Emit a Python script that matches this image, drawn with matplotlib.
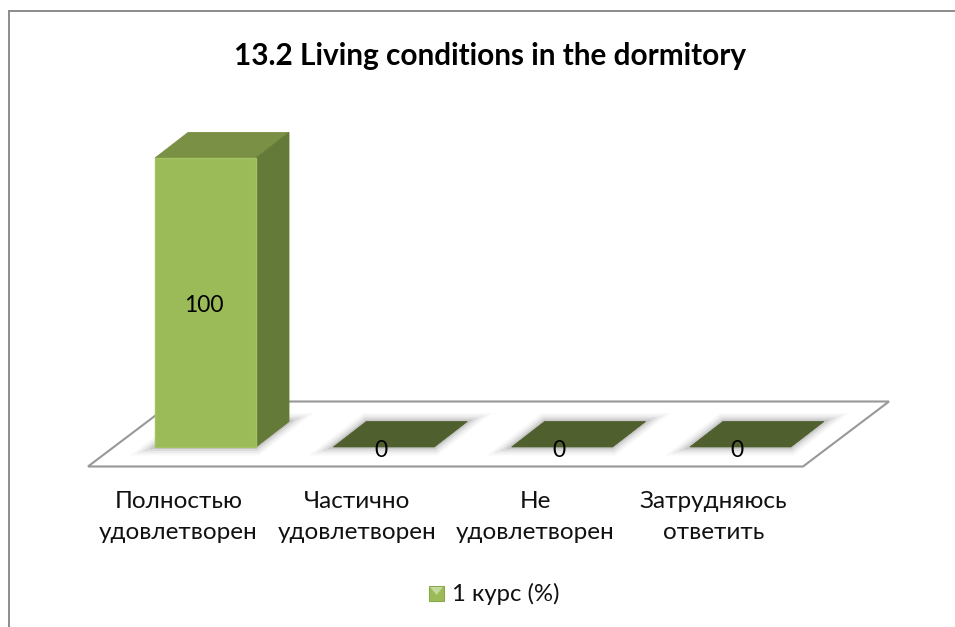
import matplotlib
matplotlib.use("Agg")
import matplotlib.pyplot as plt
from matplotlib.patches import Polygon, Rectangle
from matplotlib.lines import Line2D

categories = ["Полностью\nудовлетворен", "Частично\nудовлетворен", "Не\nудовлетворен", "Затрудняюсь\nответить"]
values = [100, 0, 0, 0]
series_name = "1 курс (%)"
title = "13.2 Living conditions in the dormitory"

W, H = 955, 627
plt.rcParams["font.family"] = ["Lato", "DejaVu Sans"]
fig = plt.figure(figsize=(W / 100, H / 100), dpi=100, facecolor="white")

# frame of the chart area
for xs, ys in (([9, 955], [H - 11, H - 11]), ([9, 9], [H - 11, 0])):
    fig.add_artist(Line2D([x / W for x in xs], [y / H for y in ys], color="#8c8c8c", lw=1.4))

# plot axes: category spacing 178.3 px, 100 units = 289 px
PXC, PXV = 178.3, 2.89
left, right = 205.5 - 0.5 * PXC, 205.5 + 3.5 * PXC
bottom, top = 447, 158
ax = fig.add_axes([left / W, 1 - bottom / H, (right - left) / W, (bottom - top) / H])
ax.set_xlim(-0.5, 3.5)
ax.set_ylim(0, 100)
ax.axis("off")

DX, DY = 33 / PXC, 25.5 / PXV
BW = 101 / PXC

# floor
fl, fr = (88 - 205.5) / PXC, (803 - 205.5) / PXC
fy = -19.5 / PXV
ax.add_patch(Polygon([(fl, fy), (fr, fy), (fr + 86 / PXC, fy + 65 / PXV), (fl + 86 / PXC, fy + 65 / PXV)],
                     closed=True, fc="white", ec="#989898", lw=1.5, clip_on=False, joinstyle="miter", zorder=1))

for i, (v, cat) in enumerate(zip(values, categories)):
    x0, x1 = i - BW / 2, i + BW / 2
    # soft shadow on the floor
    base = [(x0, 0), (x1, 0), (x1 + DX, DY), (x0 + DX, DY)]
    for lw, a in ((12, 0.05), (9, 0.08), (6, 0.12), (3, 0.18)):
        ax.add_patch(Polygon(base, closed=True, fc="#707070", ec="#707070", alpha=a, lw=lw,
                             clip_on=False, zorder=2))
    if v > 0:
        ax.add_patch(Polygon([(x0, v), (x1, v), (x1 + DX, v + DY), (x0 + DX, v + DY)], closed=True,
                             fc="#7a9045", ec="#7a9045", lw=0.6, clip_on=False, zorder=3))
        ax.add_patch(Polygon([(x1, 0), (x1 + DX, DY), (x1 + DX, v + DY), (x1, v)], closed=True,
                             fc="#647a38", ec="#647a38", lw=0.6, clip_on=False, zorder=3))
        ax.add_patch(Rectangle((x0, 0), BW, v, fc="#9bbb59", ec="#a3c263", lw=1.0, clip_on=False, zorder=4))
        ax.text(i - 1.5 / PXC, v / 2 - 3.5 / PXV, f"{v}", ha="center", va="center", fontsize=16.5, color="black",
                clip_on=False, zorder=5)
    else:
        ax.add_patch(Polygon(base, closed=True, fc="#4f5f2d", ec="#4f5f2d", lw=0.5, clip_on=False, zorder=3))
        ax.text(i - 3 / PXC, -3.5 / PXV, f"{v}", ha="center", va="center", fontsize=16.5, color="black",
                clip_on=False, zorder=5)
    ax.text(i - 27 / PXC, -(517 - 447) / PXV, cat, ha="center", va="center", fontsize=17.5, color="#111111",
            linespacing=1.56, clip_on=False, zorder=5)

# title
fig.text(490 / W, 1 - 56 / H, title, ha="center", va="center", fontsize=21.4, fontweight="bold", color="black")

# legend
fig.add_artist(Rectangle((429 / W, 1 - 601 / H), 15 / W, 15 / H, transform=fig.transFigure, fc="#9bbb59", ec="#8aa84c", lw=0.8))
fig.add_artist(Polygon([(430 / W, 1 - 587 / H), (443 / W, 1 - 587 / H), (436.5 / W, 1 - 595 / H)],
                       transform=fig.transFigure, fc="#c4d89a", ec="none"))
fig.text(452 / W, 1 - 594 / H, series_name, ha="left", va="center", fontsize=17.2, color="#111111")

fig.savefig("out.png", dpi=100)
